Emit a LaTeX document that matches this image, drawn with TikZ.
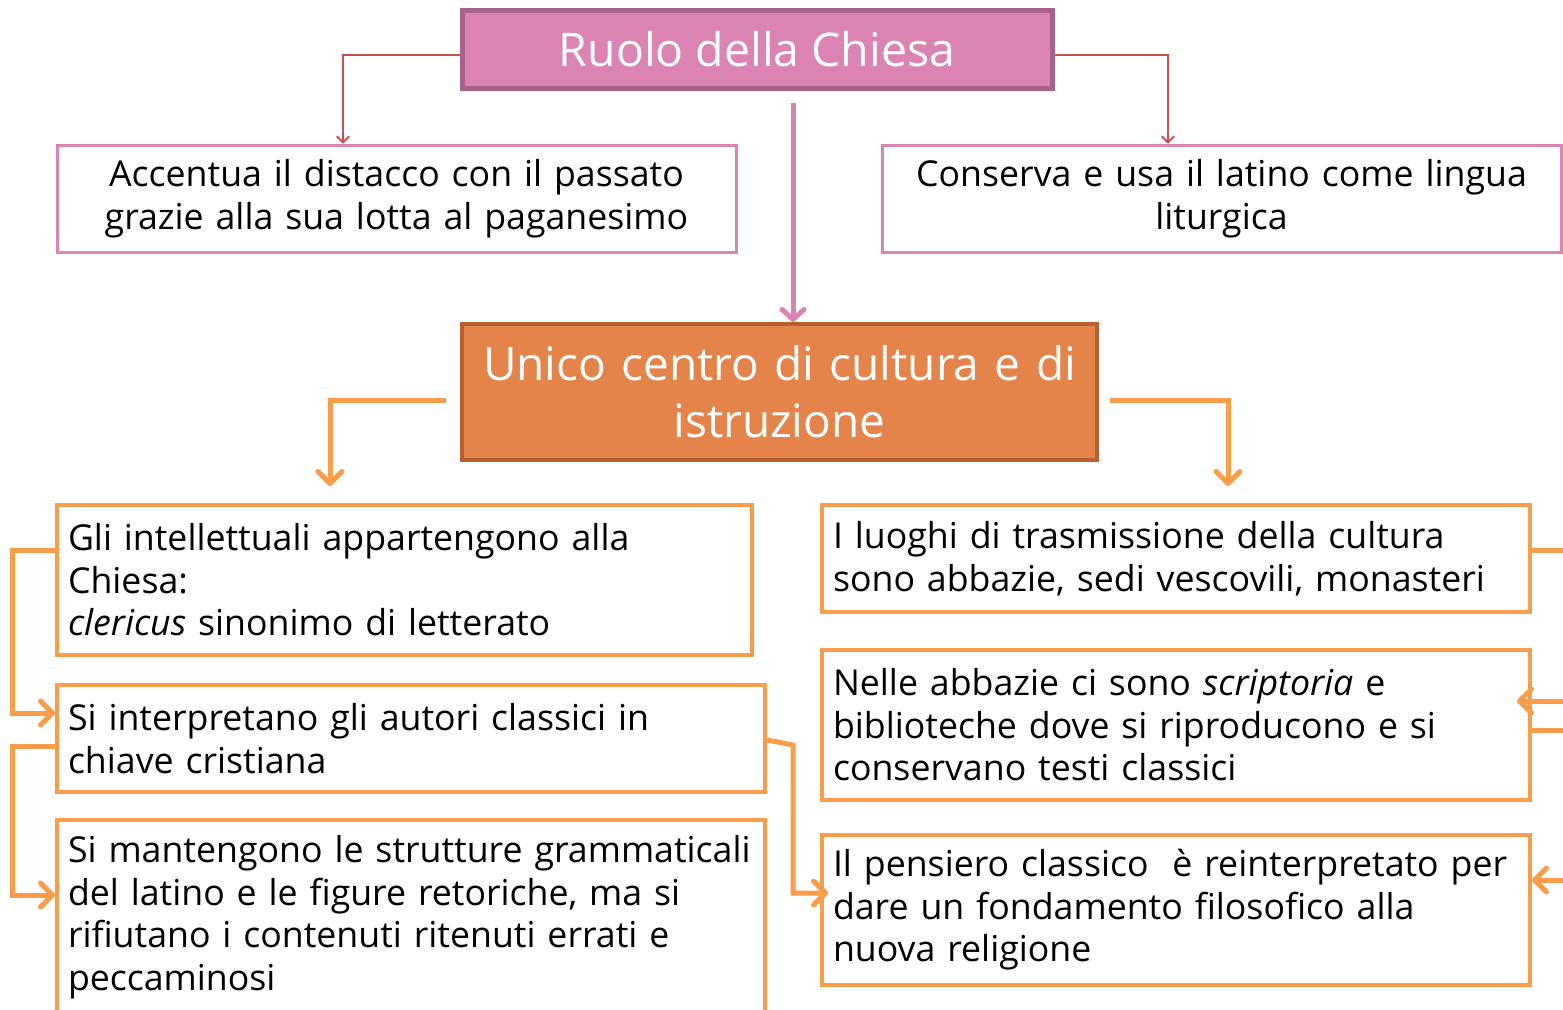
\documentclass[tikz,border=0pt]{standalone}
\usepackage{fontspec}
\setmainfont{Open Sans}
\usetikzlibrary{arrows.meta,calc}
\definecolor{pinkF}{HTML}{DB84B4}
\definecolor{pinkD}{HTML}{A8628A}
\definecolor{redL}{HTML}{C9504F}
\definecolor{oraF}{HTML}{E4834A}
\definecolor{oraD}{HTML}{B5612E}
\definecolor{oraL}{HTML}{F99D4B}
\begin{document}
\begin{tikzpicture}[x=0.5pt,y=-0.5pt,
  bodyfont/.style={font=\fontsize{17.85}{21.25}\selectfont},
  pbox/.style={draw=pinkF, line width=1.5pt, fill=white, inner xsep=5.5pt, inner ysep=0pt, align=center, bodyfont},
  obox/.style={draw=oraL, line width=2pt, fill=white, inner xsep=5.5pt, inner ysep=0pt, align=left, bodyfont},
  redarrow/.style={draw=redL, line width=1pt, -{Straight Barb[length=3pt,width=6pt,round]}},
  pinkarrow/.style={draw=pinkF, line width=2.5pt, -{Straight Barb[length=5pt,width=11pt,round]}},
  oarrow/.style={draw=oraL, line width=2.5pt, -{Straight Barb[length=6pt,width=12pt,round]}},
  oline/.style={draw=oraL, line width=2.5pt}
]
\useasboundingbox (0,0) rectangle (1563,1009);

\node[draw=pinkD, fill=pinkF, line width=2.5pt, text=white, minimum width=295pt, minimum height=39pt, inner sep=0pt, font=\fontsize{23.2}{27}\selectfont] (top) at (757,49) {Ruolo della Chiesa};

\node[pbox, minimum width=339.5pt, minimum height=53.5pt, text width=328.5pt] (A) at (396.5,198.5)
  {Accentua il distacco con il passato\\grazie alla sua lotta al paganesimo};
\node[pbox, minimum width=339.5pt, minimum height=53.5pt, text width=328.5pt] (C) at (1221.5,198.5)
  {Conserva e usa il latino come lingua\\liturgica};

\node[draw=oraD, fill=oraF, line width=2pt, text=white, minimum width=317.5pt, minimum height=68pt, text width=306.5pt, inner xsep=5.5pt, inner ysep=0pt, align=center, font=\fontsize{23}{28.5}\selectfont] (U) at (779.5,392)
  {Unico centro di cultura e di\\istruzione};

\node[obox, minimum width=347.5pt, minimum height=75pt, text width=336.5pt] (L1) at (404.5,580)
  {Gli intellettuali appartengono alla\\Chiesa:\\\textit{clericus} sinonimo di letterato};
\node[obox, minimum width=354pt, minimum height=53.5pt, text width=343pt] (L2) at (411,738.5)
  {Si interpretano gli autori classici in\\chiave cristiana};
\node[obox, minimum width=354pt, minimum height=97pt, text width=343pt] (L3) at (411,917)
  {Si mantengono le strutture grammaticali\\del latino e le figure retoriche, ma si\\rifiutano i contenuti ritenuti errati e\\peccaminosi};

\node[obox, minimum width=354pt, minimum height=53.5pt, text width=343pt] (R1) at (1176,558.5)
  {I luoghi di trasmissione della cultura\\sono abbazie, sedi vescovili, monasteri};
\node[obox, minimum width=354pt, minimum height=75pt, text width=343pt] (R2) at (1176,725)
  {Nelle abbazie ci sono \textit{scriptoria} e\\biblioteche dove si riproducono e si\\conservano testi classici};
\node[obox, minimum width=354pt, minimum height=75pt, text width=343pt] (R3) at (1176,910)
  {Il pensiero classico~ è reinterpretato per\\dare un fondamento filosofico alla\\nuova religione};

% red connectors
\draw[redarrow] ($(top.west)+(0,6)$) -| (A.north -| 343,0);
\draw[redarrow] ($(top.east)+(0,6)$) -| (C.north -| 1168,0);
% pink
\draw[pinkarrow] ($(top.south -| 793,0)+(0,12)$) -- (U.north -| 793,0);
% orange from U
\draw[oarrow] ($(U.west)+(-14,8)$) -| ($(L1.north -| 330,0)+(0,-17)$);
\draw[oarrow] ($(U.east)+(11,8)$) -| ($(R1.north -| 1228,0)+(0,-17)$);
% left loops
\draw[oarrow] (L1.west |- 0,550) -- (12,550) |- (L2.west |- 0,713);
\draw[oarrow] (L2.west |- 0,746) -- (12,746) |- (L3.west |- 0,895);
% middle
\draw[oarrow] (L2.east |- 0,740) -- (793,745) |- ($(R3.west |- 0,893)+(8,0)$);
% right
\draw[oline] (R1.east |- 0,550) -- (1568,550) -- (1568,701);
\draw[oarrow] (1568,701) -- ($(R2.east |- 0,701)+(-15,0)$);
\draw[oline] (R2.east |- 0,730) -- (1568,730) -- (1568,880);
\draw[oarrow] (1568,880) -- ($(R3.east |- 0,880)+(0,0)$);
\end{tikzpicture}
\end{document}
